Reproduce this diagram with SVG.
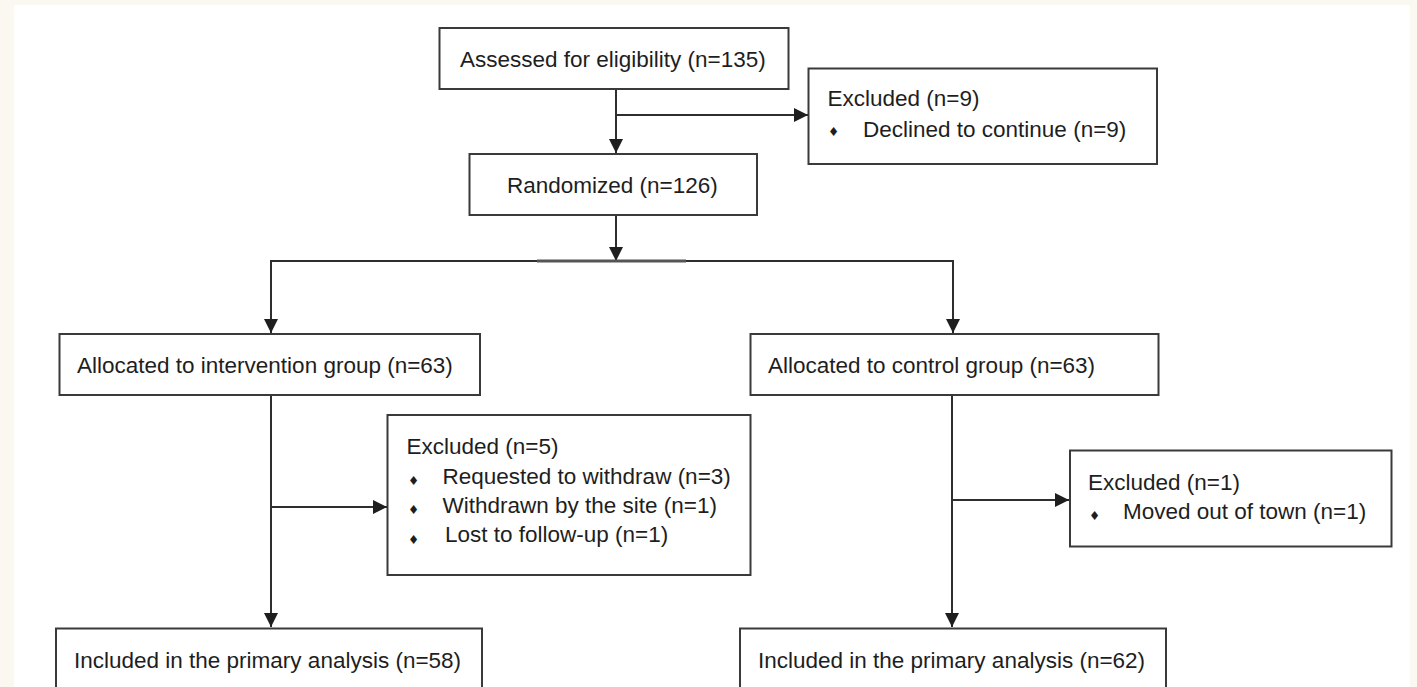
<svg xmlns="http://www.w3.org/2000/svg" width="1417" height="687" viewBox="0 0 1417 687">
<defs>
<style>
.box{fill:#fff;stroke:#3a3a3a;stroke-width:2}
.t{font-family:"Liberation Sans",Arial,sans-serif;font-size:22.5px;fill:#1e1e1e}
.b{font-family:"DejaVu Sans",sans-serif;font-size:12.5px;fill:#1e1e1e}
.c{fill:none;stroke:#2e2e2e;stroke-width:2}
</style>
<marker id="ah" markerUnits="userSpaceOnUse" markerWidth="14" markerHeight="14" refX="14" refY="7" orient="auto">
<path d="M0,0 L14,7 L0,14 z" fill="#1e1e1e"/>
</marker>
</defs>
<rect x="0" y="0" width="1417" height="687" fill="#fbf8f1"/>
<rect x="14" y="5" width="1396" height="682" fill="#ffffff"/>

<g id="connectors">
<line class="c" x1="616" y1="89" x2="616" y2="153" marker-end="url(#ah)"/>
<line class="c" x1="616" y1="115" x2="808" y2="115" marker-end="url(#ah)"/>
<line class="c" x1="616" y1="215" x2="616" y2="261" marker-end="url(#ah)"/>
<line class="c" x1="270" y1="261" x2="954" y2="261"/>
<line x1="537" y1="261" x2="686" y2="261" stroke="#555" stroke-width="3"/>
<line class="c" x1="271" y1="261" x2="271" y2="333" marker-end="url(#ah)"/>
<line class="c" x1="953" y1="261" x2="953" y2="333" marker-end="url(#ah)"/>
<line class="c" x1="271" y1="395" x2="271" y2="627" marker-end="url(#ah)"/>
<line class="c" x1="271" y1="507" x2="387" y2="507" marker-end="url(#ah)"/>
<line class="c" x1="952" y1="395" x2="952" y2="627" marker-end="url(#ah)"/>
<line class="c" x1="952" y1="500" x2="1069" y2="500" marker-end="url(#ah)"/>
</g>

<g id="assessed">
<rect class="box" x="439.5" y="28" width="349" height="61"/>
<text class="t" x="460" y="67">Assessed for eligibility (n=135)</text>
</g>

<g id="excluded-enrol">
<rect class="box" x="808.5" y="68.5" width="348.5" height="95.5"/>
<text class="t" x="827.5" y="106">Excluded (n=9)</text>
<text class="b" x="828" y="136">♦</text>
<text class="t" x="863" y="137">Declined to continue (n=9)</text>
</g>

<g id="randomized">
<rect class="box" x="469.5" y="154" width="287.5" height="61"/>
<text class="t" x="507" y="193">Randomized (n=126)</text>
</g>

<g id="alloc-intervention">
<rect class="box" x="59.5" y="334" width="420.5" height="61"/>
<text class="t" x="77" y="373">Allocated to intervention group (n=63)</text>
</g>

<g id="alloc-control">
<rect class="box" x="750.5" y="334" width="408" height="61"/>
<text class="t" x="768" y="373">Allocated to control group (n=63)</text>
</g>

<g id="excluded-intervention">
<rect class="box" x="387.5" y="415" width="363" height="160"/>
<text class="t" x="406.5" y="454">Excluded (n=5)</text>
<text class="b" x="408" y="485">♦</text>
<text class="t" x="442.5" y="483.5">Requested to withdraw (n=3)</text>
<text class="b" x="408" y="514">♦</text>
<text class="t" x="442.5" y="512.5">Withdrawn by the site (n=1)</text>
<text class="b" x="408" y="543.5">♦</text>
<text class="t" x="445" y="542">Lost to follow-up (n=1)</text>
</g>

<g id="excluded-control">
<rect class="box" x="1070" y="450.5" width="321.5" height="96"/>
<text class="t" x="1088" y="490">Excluded (n=1)</text>
<text class="b" x="1089" y="520">♦</text>
<text class="t" x="1123" y="518.5">Moved out of town (n=1)</text>
</g>

<g id="included-intervention">
<rect class="box" x="56" y="628.5" width="426" height="80"/>
<text class="t" x="74" y="667.5">Included in the primary analysis (n=58)</text>
</g>

<g id="included-control">
<rect class="box" x="740" y="628.5" width="426" height="80"/>
<text class="t" x="758" y="667.5">Included in the primary analysis (n=62)</text>
</g>
</svg>
